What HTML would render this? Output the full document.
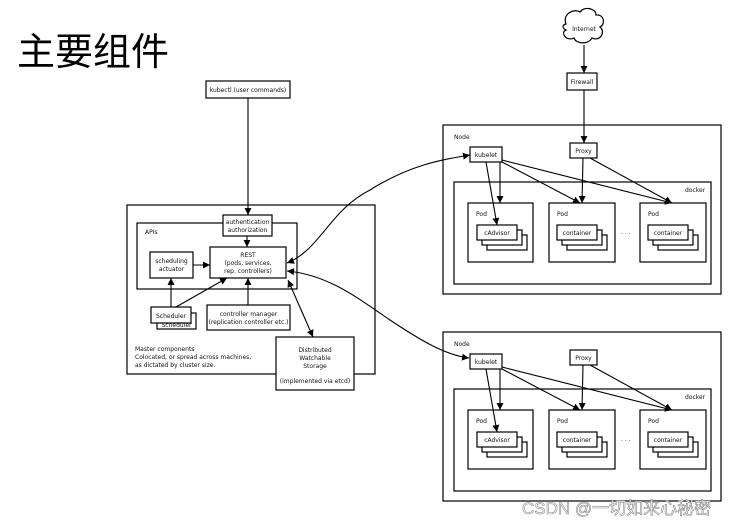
<!DOCTYPE html>
<html><head><meta charset="utf-8"><style>
html,body{margin:0;padding:0;background:#fff;width:750px;height:526px;overflow:hidden}
svg text{font-family:"DejaVu Sans","Liberation Sans",sans-serif;font-size:6px;fill:#111}
</style></head><body>
<svg width="750" height="526" viewBox="0 0 750 526" xmlns="http://www.w3.org/2000/svg">
<defs>
<marker id="a" markerWidth="8" markerHeight="8" refX="7" refY="4" orient="auto" markerUnits="userSpaceOnUse"><path d="M0,0.5 L7,4 L0,7.5 z" fill="#000"/></marker>
<marker id="s" markerWidth="8" markerHeight="8" refX="0" refY="4" orient="auto" markerUnits="userSpaceOnUse"><path d="M7,0.5 L0,4 L7,7.5 z" fill="#000"/></marker>
</defs>
<text x="17" y="65" style="font-family:'Noto Sans CJK SC',sans-serif;font-size:38px;fill:#000">主要组件</text>
<g fill="#fff" stroke="#000" stroke-width="1.2">
<path d="M566,24 C562,14 574,8 580,12 C584,6 596,8 596,15 C604,14 606,24 600,27 C606,32 600,42 592,38 C588,45 576,44 574,38 C566,42 560,32 566,30 C562,28 562,25 566,24 z"/>
<rect x="567" y="73" width="30" height="17"/>
<rect x="206" y="81" width="84" height="17"/>
<rect x="127" y="205" width="248" height="169"/>
<rect x="137" y="223" width="160" height="66"/>
<rect x="223" y="215" width="49" height="21"/>
<rect x="210" y="247" width="76" height="31"/>
<rect x="150" y="252" width="43" height="26"/>
<rect x="157" y="313" width="39" height="16"/>
</g>
<text x="176.5" y="327" text-anchor="middle">Scheduler</text>
<g fill="#fff" stroke="#000" stroke-width="1.2">
<rect x="151" y="307" width="40" height="16"/>
<rect x="207" y="305" width="83" height="25"/>
<rect x="276" y="337" width="78" height="53"/>
</g>
<g>
<text x="584" y="31" text-anchor="middle">Internet</text>
<text x="582" y="84" text-anchor="middle">Firewall</text>
<text x="248" y="92" text-anchor="middle">kubectl (user commands)</text>
<text x="247.5" y="224" text-anchor="middle">authentication</text>
<text x="247.5" y="232" text-anchor="middle">authorization</text>
<text x="145" y="234">APIs</text>
<text x="248" y="257" text-anchor="middle">REST</text>
<text x="248" y="265" text-anchor="middle">(pods, services,</text>
<text x="248" y="273" text-anchor="middle">rep. controllers)</text>
<text x="171.5" y="263" text-anchor="middle">scheduling</text>
<text x="171.5" y="271" text-anchor="middle">actuator</text>
<text x="171" y="318" text-anchor="middle">Scheduler</text>
<text x="248.5" y="316" text-anchor="middle">controller manager</text>
<text x="248.5" y="324" text-anchor="middle">(replication controller etc.)</text>
<text x="315" y="352" text-anchor="middle">Distributed</text>
<text x="315" y="360" text-anchor="middle">Watchable</text>
<text x="315" y="368" text-anchor="middle">Storage</text>
<text x="315" y="383" text-anchor="middle">(implemented via etcd)</text>
<text x="135" y="351">Master components</text>
<text x="135" y="359">Colocated, or spread across machines,</text>
<text x="135" y="367">as dictated by cluster size.</text>
</g>
<g id="node">
<g fill="#fff" stroke="#000" stroke-width="1.2">
<rect x="443" y="125" width="278" height="169"/>
<rect x="454" y="182" width="257" height="102"/>
<rect x="470" y="147" width="32" height="15"/>
<rect x="570" y="143" width="27" height="15"/>
<rect x="468" y="203" width="65" height="59"/>
<rect x="549" y="203" width="66" height="59"/>
<rect x="640" y="203" width="66" height="59"/>
<rect x="487" y="235" width="40" height="15"/>
<rect x="482" y="230" width="40" height="15"/>
<rect x="477" y="225" width="40" height="15"/>
<rect x="567" y="235" width="40" height="15"/>
<rect x="562" y="230" width="40" height="15"/>
<rect x="557" y="225" width="40" height="15"/>
<rect x="658" y="235" width="40" height="15"/>
<rect x="653" y="230" width="40" height="15"/>
<rect x="648" y="225" width="40" height="15"/>
</g>
<text x="454" y="139">Node</text>
<text x="486" y="157" text-anchor="middle">kubelet</text>
<text x="583.5" y="153" text-anchor="middle">Proxy</text>
<text x="685" y="192">docker</text>
<text x="476" y="216">Pod</text>
<text x="557" y="216">Pod</text>
<text x="648" y="216">Pod</text>
<text x="497" y="235" text-anchor="middle">cAdvisor</text>
<text x="577" y="235" text-anchor="middle">container</text>
<text x="668" y="235" text-anchor="middle">container</text>
<text x="621" y="236" font-size="9">· · ·</text>
<g stroke="#000" stroke-width="1.1" fill="none">
<line x1="486" y1="162" x2="497" y2="225" marker-end="url(#a)"/>
<line x1="500" y1="162" x2="500" y2="203" marker-end="url(#a)"/>
<line x1="502" y1="162" x2="580" y2="203" marker-end="url(#a)"/>
<line x1="502" y1="160" x2="672" y2="203" marker-end="url(#a)"/>
<line x1="583" y1="158" x2="582" y2="203" marker-end="url(#a)"/>
<line x1="590" y1="158" x2="672" y2="203" marker-end="url(#a)"/>
</g>
</g>
<use href="#node" transform="translate(0,207)"/>
<g stroke="#000" stroke-width="1.1" fill="none">
<line x1="584" y1="45" x2="584" y2="73" marker-end="url(#a)"/>
<line x1="584" y1="90" x2="584" y2="143" marker-end="url(#a)"/>
<line x1="248" y1="98" x2="248" y2="215" marker-end="url(#a)"/>
<line x1="247" y1="236" x2="247" y2="247" marker-end="url(#a)"/>
<line x1="193" y1="265" x2="210" y2="265" marker-end="url(#a)"/>
<line x1="171" y1="307" x2="171" y2="278" marker-end="url(#a)"/>
<line x1="176" y1="307" x2="227" y2="278" marker-end="url(#a)"/>
<line x1="248" y1="305" x2="248" y2="278" marker-end="url(#a)"/>
<line x1="288" y1="280" x2="313" y2="337" marker-start="url(#s)" marker-end="url(#a)"/>
<path d="M287,263 C320,250 330,210 370,190 C410,165 440,160 470,155" marker-start="url(#s)" marker-end="url(#a)"/>
<path d="M287,271 C330,275 360,300 390,320 C420,340 445,355 469,358" marker-start="url(#s)" marker-end="url(#a)"/>
</g>
<text x="522" y="514" style="font-family:'Liberation Sans','Noto Sans CJK SC',sans-serif;font-size:17px;fill:#fff;stroke:#888;stroke-width:0.6">CSDN @一切如来心秘密</text>
</svg>
</body></html>
